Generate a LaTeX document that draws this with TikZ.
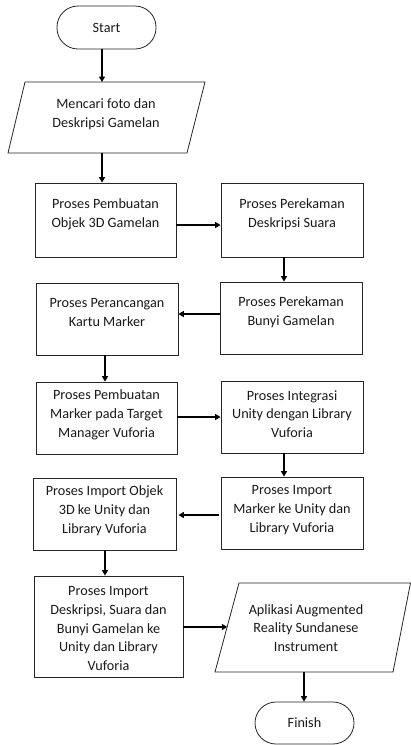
\documentclass[tikz,border=0pt]{standalone}
\usepackage{fontspec}
\setmainfont{Carlito}
\usetikzlibrary{arrows.meta,calc}
\begin{document}
\begin{tikzpicture}[x=1pt,y=-1pt,
  box/.style={draw=black!85,line width=0.8pt,rectangle,inner sep=0pt},
  term/.style={draw=black!85,line width=0.8pt,rectangle,rounded corners=21pt,inner sep=0pt},
  txt/.style={align=center,inner sep=0pt,font=\fontsize{14.2pt}{18.8pt}\selectfont,text=black!90},
  arr/.style={line width=1.4pt,-{Triangle[length=5.5pt,width=6pt]}},
  outline/.style={draw=black!85,line width=0.8pt}]
\useasboundingbox (0,0) rectangle (411,745);
% Start
\node[term,minimum width=99pt,minimum height=43pt] (start) at (106.5,27.5) {};
\node[txt] (tstart) at (106.5,27.5) {Start};
% Parallelogram 1
\coordinate (p1tl) at (25,82); \coordinate (p1tr) at (205,82);
\coordinate (p1br) at (187,153); \coordinate (p1bl) at (8,153);
\draw[outline] (p1tl) -- (p1tr) -- (p1br) -- (p1bl) -- cycle;
\node[txt] (tp1) at (106,114) {Mencari foto dan\\Deskripsi Gamelan};
% boxes
\node[box,minimum width=141pt,minimum height=74pt] (b1) at (105.5,220) {};
\node[txt] (t1) at (105.5,214) {Proses Pembuatan\\Objek 3D Gamelan};
\node[box,minimum width=142pt,minimum height=74pt] (b2) at (292,220) {};
\node[txt] (t2) at (292,214) {Proses Perekaman\\Deskripsi Suara};
\node[box,minimum width=142pt,minimum height=72pt] (b3) at (291,318) {};
\node[txt] (t3) at (291,312) {Proses Perekaman\\Bunyi Gamelan};
\node[box,minimum width=142pt,minimum height=72pt] (b4) at (107,319) {};
\node[txt] (t4) at (107,312.5) {Proses Perancangan\\Kartu Marker};
\node[box,minimum width=141pt,minimum height=72pt] (b5) at (106.5,418) {};
\node[txt] (t5) at (106.5,415) {Proses Pembuatan\\Marker pada Target\\Manager Vuforia};
\node[box,minimum width=142pt,minimum height=72pt] (b6) at (292,417) {};
\node[txt] (t6) at (292,414) {Proses Integrasi\\Unity dengan Library\\Vuforia};
\node[box,minimum width=142pt,minimum height=72pt] (b7) at (292,513) {};
\node[txt] (t7) at (292,510) {Proses Import\\Marker ke Unity dan\\Library Vuforia};
\node[box,minimum width=143pt,minimum height=72pt] (b8) at (104.5,514) {};
\node[txt] (t8) at (104.5,510.5) {Proses Import Objek\\3D ke Unity dan\\Library Vuforia};
\node[box,minimum width=149pt,minimum height=101pt] (b9) at (108.5,626.5) {};
\node[txt] (t9) at (108.5,628.5) {Proses Import\\Deskripsi, Suara dan\\Bunyi Gamelan ke\\Unity dan Library\\Vuforia};
% Parallelogram 2
\coordinate (p2tl) at (239,583); \coordinate (p2tr) at (410.5,583);
\coordinate (p2br) at (393,672); \coordinate (p2bl) at (215,672);
\draw[outline] (p2tl) -- (p2tr) -- (p2br) -- (p2bl) -- cycle;
\node[txt] (tp2) at (306,628) {Aplikasi Augmented\\Reality Sundanese\\Instrument};
\coordinate (p2in) at (227.3,627);
\coordinate (p2out) at (304,672);
% Finish
\node[term,minimum width=99pt,minimum height=42pt] (finish) at (304.5,723) {};
\node[txt] (tfinish) at (304.5,723) {Finish};
% arrows
\draw[arr] (start.south -| 102,0) -- (p1tl -| 102,0);
\draw[arr] (p1bl -| 102,0) -- (b1.north -| 102,0);
\draw[arr] (b1.east |- 0,225) -- (b2.west |- 0,225);
\draw[arr] (b2.south -| 284,0) -- (b3.north -| 284,0);
\draw[arr] (b3.west |- 0,314) -- (b4.east |- 0,314);
\draw[arr] (b4.south -| 105,0) -- (b5.north -| 105,0);
\draw[arr] (b5.east |- 0,417) -- (b6.west |- 0,417);
\draw[arr] (b6.south -| 284,0) -- (b7.north -| 284,0);
\draw[arr] ([xshift=-2pt]b7.west |- 0,515) -- ([xshift=2pt]b8.east |- 0,515);
\draw[arr] (b8.south -| 105,0) -- (b9.north -| 105,0);
\draw[arr] (b9.east |- p2in) -- (p2in);
\draw[arr] (p2out) -- (finish.north -| p2out);
\end{tikzpicture}
\end{document}
